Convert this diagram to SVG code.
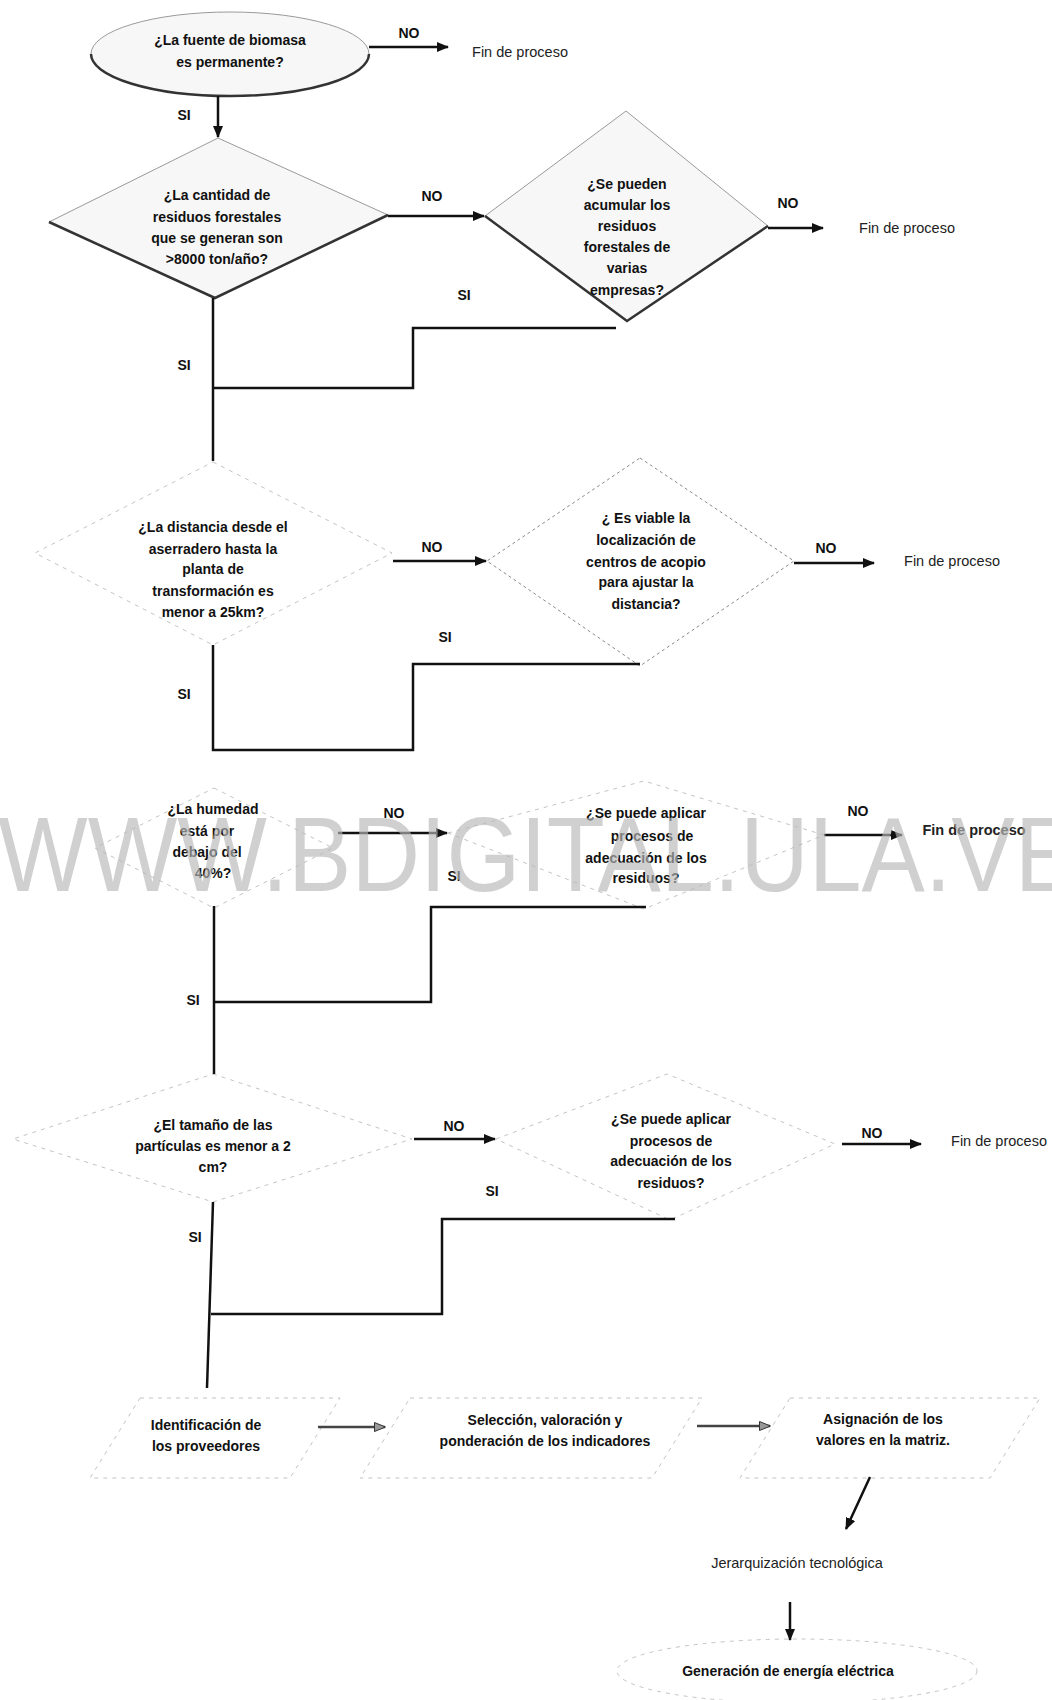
<svg xmlns="http://www.w3.org/2000/svg" width="1052" height="1700" viewBox="0 0 1052 1700">
<defs>
<style>
.q{font-family:"Liberation Sans",Arial,sans-serif;font-size:14px;font-weight:bold;fill:#111;text-anchor:middle}
.lbl{font-family:"Liberation Sans",Arial,sans-serif;font-size:14px;font-weight:bold;fill:#111;text-anchor:middle}
.end{font-family:"Liberation Sans",Arial,sans-serif;font-size:14.5px;fill:#222;text-anchor:middle}
.endb{font-family:"Liberation Sans",Arial,sans-serif;font-size:14.5px;font-weight:bold;fill:#222;text-anchor:middle}
.conn{stroke:#111;stroke-width:2.5;fill:none}
.hol{stroke:#444;stroke-width:2.5;fill:none}
.strong{fill:#f7f7f7;stroke:#9a9a9a;stroke-width:1}
.shadow{fill:none;stroke:#333;stroke-width:2.5}
.faint{fill:none;stroke:#c4c4c4;stroke-width:1;stroke-dasharray:4 5}
.thin{fill:none;stroke:#8a8a8a;stroke-width:1;stroke-dasharray:3 3}
.wm{font-family:"Liberation Sans",Arial,sans-serif;font-size:106px;fill:#b8b8b8;opacity:0.65}
</style>
<marker id="ah" viewBox="0 0 12 10" refX="11" refY="5" markerWidth="12" markerHeight="10" markerUnits="userSpaceOnUse" orient="auto"><path d="M0,0 L12,5 L0,10 z" fill="#111"/></marker>
<marker id="ah2" viewBox="0 0 12 10" refX="11" refY="5" markerWidth="12" markerHeight="10" markerUnits="userSpaceOnUse" orient="auto"><path d="M0.5,0.5 L11.5,5 L0.5,9.5 z" fill="#999" stroke="#333" stroke-width="1"/></marker>
</defs>
<rect width="1052" height="1700" fill="#fff"/>

<g id="n1">
<ellipse class="strong" cx="230" cy="54" rx="139" ry="42"/>
<path class="shadow" d="M91,54 A139,42 0 0 0 369,54"/>
<text class="q" x="230" y="45">¿La fuente de biomasa</text>
<text class="q" x="230" y="67">es permanente?</text>
</g>
<g id="end1"><text class="end" x="520" y="57">Fin de proceso</text></g>

<g id="n2">
<polygon class="strong" points="49,222 218,138 388,215 215,298"/>
<path class="shadow" d="M49,222 L215,298 L388,215"/>
<text class="q" x="217" y="200">¿La cantidad de</text>
<text class="q" x="217" y="222">residuos forestales</text>
<text class="q" x="217" y="243">que se generan son</text>
<text class="q" x="217" y="264">&gt;8000 ton/año?</text>
</g>

<g id="n3">
<polygon class="strong" points="626,111 768,226 627,321 485,216"/>
<path class="shadow" d="M485,216 L627,321 L768,226"/>
<text class="q" x="627" y="189">¿Se pueden</text>
<text class="q" x="627" y="210">acumular los</text>
<text class="q" x="627" y="231">residuos</text>
<text class="q" x="627" y="252">forestales de</text>
<text class="q" x="627" y="273">varias</text>
<text class="q" x="627" y="295">empresas?</text>
</g>
<g id="end3"><text class="end" x="907" y="233">Fin de proceso</text></g>

<g id="n4">
<polygon class="faint" points="213,462 392,553 213,645 35,553"/>
<text class="q" x="213" y="532">¿La distancia desde el</text>
<text class="q" x="213" y="554">aserradero hasta la</text>
<text class="q" x="213" y="574">planta de</text>
<text class="q" x="213" y="596">transformación es</text>
<text class="q" x="213" y="617">menor a 25km?</text>
</g>

<g id="n5">
<polygon class="thin" points="640,458 794,561 640,666 487,561"/>
<text class="q" x="646" y="523">¿ Es viable la</text>
<text class="q" x="646" y="545">localización de</text>
<text class="q" x="646" y="567">centros de acopio</text>
<text class="q" x="646" y="587">para ajustar la</text>
<text class="q" x="646" y="609">distancia?</text>
</g>
<g id="end5"><text class="end" x="952" y="566">Fin de proceso</text></g>

<g id="n6">
<polygon class="faint" points="214,788 333,848 214,908 95,848"/>
<text class="q" x="213" y="814">¿La humedad</text>
<text class="q" x="207" y="836">está por</text>
<text class="q" x="207" y="857">debajo del</text>
<text class="q" x="213" y="878">40%?</text>
</g>

<g id="n7">
<polygon class="faint" points="448,833 644,781 824,835 644,909"/>
<text class="q" x="646" y="818">¿Se puede aplicar</text>
<text class="q" x="652" y="841">procesos de</text>
<text class="q" x="646" y="863">adecuación de los</text>
<text class="q" x="646" y="883">residuos?</text>
</g>
<g id="end7"><text class="endb" x="974" y="835">Fin de proceso</text></g>

<g id="n8">
<polygon class="faint" points="213,1074 412,1139 213,1202 13,1139"/>
<text class="q" x="213" y="1130">¿El tamaño de las</text>
<text class="q" x="213" y="1151">partículas es menor a 2</text>
<text class="q" x="213" y="1172">cm?</text>
</g>

<g id="n9">
<polygon class="faint" points="496,1139 667,1074 835,1144 670,1220"/>
<text class="q" x="671" y="1124">¿Se puede aplicar</text>
<text class="q" x="671" y="1146">procesos de</text>
<text class="q" x="671" y="1166">adecuación de los</text>
<text class="q" x="671" y="1188">residuos?</text>
</g>
<g id="end9"><text class="end" x="999" y="1146">Fin de proceso</text></g>

<g id="n10">
<polygon class="faint" points="140,1398 340,1398 290,1478 90,1478"/>
<text class="q" x="206" y="1430">Identificación de</text>
<text class="q" x="206" y="1451">los proveedores</text>
</g>
<g id="n11">
<polygon class="faint" points="410,1398 702,1398 652,1478 360,1478"/>
<text class="q" x="545" y="1425">Selección, valoración y</text>
<text class="q" x="545" y="1446">ponderación de los indicadores</text>
</g>
<g id="n12">
<polygon class="faint" points="790,1398 1040,1398 990,1478 740,1478"/>
<text class="q" x="883" y="1424">Asignación de los</text>
<text class="q" x="883" y="1445">valores en la matriz.</text>
</g>
<g id="n13">
<text class="end" x="797" y="1568">Jerarquización tecnológica</text>
</g>
<g id="n14">
<ellipse class="faint" cx="797" cy="1671" rx="180" ry="32"/>
<text class="q" x="788" y="1676">Generación de energía eléctrica</text>
</g>

<g id="connectors">
<path class="conn" d="M369,47 L448,47" marker-end="url(#ah)"/>
<path class="conn" d="M218,96 L218,137" marker-end="url(#ah)"/>
<path class="conn" d="M388,216 L484,216" marker-end="url(#ah)"/>
<path class="conn" d="M768,228 L823,228" marker-end="url(#ah)"/>
<path class="conn" d="M616,328 L413,328 L413,388 L213,388"/>
<path class="conn" d="M213,298 L213,461"/>
<path class="conn" d="M393,561 L486,561" marker-end="url(#ah)"/>
<path class="conn" d="M794,563 L874,563" marker-end="url(#ah)"/>
<path class="conn" d="M640,664 L413,664 L413,750 L213,750 L213,645"/>
<path class="conn" d="M338,833 L447,833" marker-end="url(#ah)"/>
<path class="conn" d="M824,835 L902,835" marker-end="url(#ah)"/>
<path class="conn" d="M646,907 L431,907 L431,1002 L214,1002"/>
<path class="conn" d="M214,906 L214,1074"/>
<path class="conn" d="M414,1139 L495,1139" marker-end="url(#ah)"/>
<path class="conn" d="M842,1144 L921,1144" marker-end="url(#ah)"/>
<path class="conn" d="M675,1219 L442,1219 L442,1314 L211,1314"/>
<path class="conn" d="M213,1202 L207,1388"/>
<path class="hol" d="M318,1427 L385,1427" marker-end="url(#ah2)"/>
<path class="hol" d="M697,1426 L770,1426" marker-end="url(#ah2)"/>
<path class="conn" d="M870,1477 L846,1529" marker-end="url(#ah)"/>
<path class="conn" d="M790,1602 L790,1640" marker-end="url(#ah)"/>
<text class="lbl" x="409" y="38">NO</text>
<text class="lbl" x="184" y="120">SI</text>
<text class="lbl" x="432" y="201">NO</text>
<text class="lbl" x="788" y="208">NO</text>
<text class="lbl" x="464" y="300">SI</text>
<text class="lbl" x="184" y="370">SI</text>
<text class="lbl" x="432" y="552">NO</text>
<text class="lbl" x="826" y="553">NO</text>
<text class="lbl" x="445" y="642">SI</text>
<text class="lbl" x="184" y="699">SI</text>
<text class="lbl" x="394" y="818">NO</text>
<text class="lbl" x="858" y="816">NO</text>
<text class="lbl" x="454" y="881">SI</text>
<text class="lbl" x="193" y="1005">SI</text>
<text class="lbl" x="454" y="1131">NO</text>
<text class="lbl" x="872" y="1138">NO</text>
<text class="lbl" x="492" y="1196">SI</text>
<text class="lbl" x="195" y="1242">SI</text>
</g>

<text class="wm" x="-2" y="891" textLength="1080" lengthAdjust="spacingAndGlyphs">WWW.BDIGITAL.ULA.VE</text>
</svg>
